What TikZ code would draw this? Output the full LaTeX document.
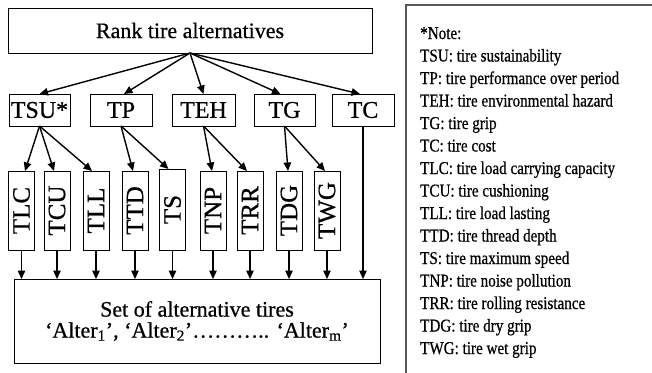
\documentclass[tikz,border=0pt]{standalone}
\usepackage{fontspec}
\setmainfont{Liberation Serif}[FakeBold=0.6]
\newfontfamily\notefont[FakeStretch=0.84,FakeBold=0.6]{Liberation Serif}
\usetikzlibrary{arrows.meta,calc}
\begin{document}
\begin{tikzpicture}[x=1pt,y=-1pt,
  box/.style={draw, line width=1pt, inner sep=0pt, outer sep=0pt},
  mid/.style={box, minimum width=62pt, minimum height=32pt, font=\fontsize{24}{28}\selectfont},
  vbox/.style={box, rotate=90, minimum width=79pt, minimum height=26pt, font=\fontsize{25}{28}\selectfont},
  conn/.style={line width=1.4pt, -{Triangle[length=8.5pt,width=7.5pt]}},
  notetext/.style={anchor=base west, inner sep=0pt, font=\notefont\fontsize{18}{20}\selectfont},
]
\useasboundingbox (0,0) rectangle (652,372);
% top
\node[box, minimum width=364pt, minimum height=45pt, font=\fontsize{22}{26}\selectfont] (rank) at (190,30.5) {Rank tire alternatives};
% criteria
\node[mid, minimum width=61pt] (tsu) at (39.5,110) {TSU*};
\node[mid] (tp) at (121,110) {TP};
\node[mid, minimum width=63pt] (teh) at (203.5,110) {TEH};
\node[mid, minimum width=61pt] (tg) at (284.5,110) {TG};
\node[mid] (tc) at (363,110) {TC};
% sub-criteria
\node[vbox] (tlc) at (21.5,210.5) {TLC};
\node[vbox] (tcu) at (57,210.5) {TCU};
\node[vbox] (tll) at (96,210.5) {TLL};
\node[vbox] (ttd) at (135,210.5) {TTD};
\node[vbox, minimum width=81pt] (ts) at (172.5,209.5) {TS};
\node[vbox] (tnp) at (213,210.5) {TNP};
\node[vbox] (trr) at (250,210.5) {TRR};
\node[vbox] (tdg) at (289,210.5) {TDG};
\node[vbox] (twg) at (327,210.5) {TWG};
% bottom
\node[box, minimum width=366pt, minimum height=84pt, align=center,
      font=\fontsize{22}{21}\selectfont] (set) at (197,321)
  {Set of alternative tires\\‘Alter\textsubscript{1}’, ‘Alter\textsubscript{2}’……….. ‘Alter\textsubscript{m}’};
% arrows top -> criteria
\draw[conn] (rank.south) -- (tsu.north);
\draw[conn] (rank.south) -- ([xshift=3pt]tp.north);
\draw[conn] (rank.south) -- (teh.north);
\draw[conn] (rank.south) -- ([xshift=-4pt]tg.north);
\draw[conn] (rank.south) -- ([xshift=-3pt]tc.north);
% criteria -> sub-criteria
\draw[conn] (tsu.south) -- ([xshift=3.5pt]tlc.east);
\draw[conn] (tsu.south) -- ([xshift=-3pt]tcu.east);
\draw[conn] (tsu.south) -- ([xshift=-4pt]tll.east);
\draw[conn] (tp.south) -- ([xshift=-2pt]ttd.east);
\draw[conn] (tp.south) -- ([xshift=-4pt]ts.east);
\draw[conn] (teh.south) -- ([xshift=-1pt]tnp.east);
\draw[conn] (teh.south) -- ([xshift=-3pt]trr.east);
\draw[conn] (tg.south) -- ([xshift=-1pt]tdg.east);
\draw[conn] (tg.south) -- ([xshift=-2pt]twg.east);
% sub-criteria -> set
\foreach \n in {tlc,tcu,tll,ttd,ts,tnp,trr,tdg,twg}
  \draw[conn] (\n.west) -- (\n.west |- set.north);
\draw[conn] (tc.south) -- (tc.south |- set.north);
% note box (clipped at right and bottom)
\coordinate (nb) at (406,380);
\coordinate (nc) at (406,5);
\coordinate (nr) at (660,5);
\draw[line width=1.3pt, black!65] (nb) -- (nc) -- (nr);
\foreach \t [count=\i] in {*Note:,
  TSU: tire sustainability,
  TP: tire performance over period,
  TEH: tire environmental hazard,
  TG: tire grip,
  TC: tire cost,
  TLC: tire load carrying capacity,
  TCU: tire cushioning,
  TLL: tire load lasting,
  TTD: tire thread depth,
  TS: tire maximum speed,
  TNP: tire noise pollution,
  TRR: tire rolling resistance,
  TDG: tire dry grip,
  TWG: tire wet grip}
  \node[notetext] (n\i) at (420,{39+22.5*(\i-1)}) {\t};
\end{tikzpicture}
\end{document}
